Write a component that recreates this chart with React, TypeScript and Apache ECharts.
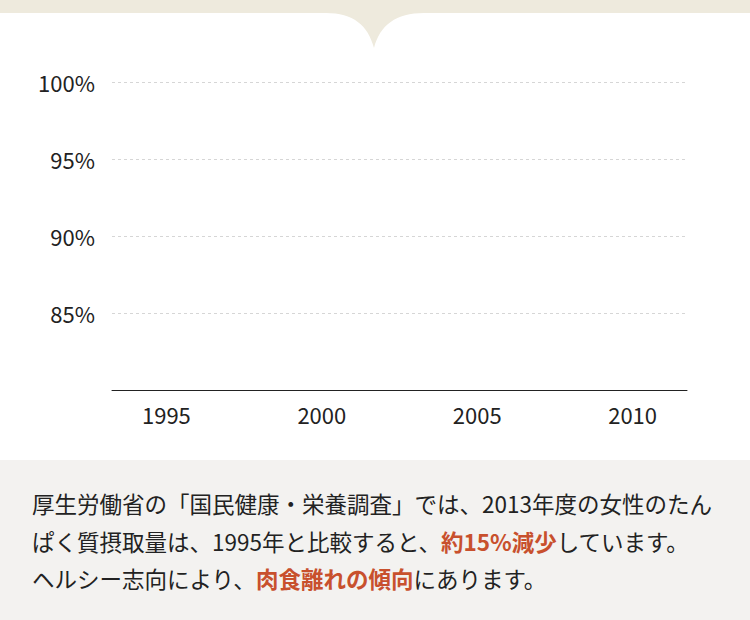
import React, { useEffect, useRef } from "react";
import * as echarts from "echarts";

const yearTicks = [1995, 2000, 2005, 2010];
const yTicks = [80, 85, 90, 95, 100];
const proteinSeries: [number, number][] = [];

const line1 = "厚生労働省の「国民健康・栄養調査」では、2013年度の女性のたん";
const line2a = "ぱく質摂取量は、1995年と比較すると、";
const line2b = "約15%減少";
const line2c = "しています。";
const line3a = "ヘルシー志向により、";
const line3b = "肉食離れの傾向";
const line3c = "にあります。";

const bandPath =
  "M0 0 H750 V13 H326 C353 13 368 25 374 48 C380 25 396 13 424 13 H0 Z";
echarts.graphic.registerShape("notchBand", echarts.graphic.extendPath(bandPath, {}));

const FONT = "'Noto Sans CJK JP', 'Noto Sans', sans-serif";

export default function App() {
  const ref = useRef<HTMLDivElement>(null);
  useEffect(() => {
    document.body.style.margin = "0";
    const chart = echarts.init(ref.current!, undefined, { renderer: "svg" });
    const rich = {
      n: { fontSize: 22.5, fill: "#222", fontFamily: FONT, fontWeight: 400 },
      r: { fontSize: 22.5, fill: "#c8502d", fontFamily: FONT, fontWeight: 700 },
    };
    chart.setOption({
      animation: false,
      backgroundColor: "#ffffff",
      grid: { left: 112, right: 63, top: 82, bottom: 230 },
      xAxis: {
        type: "value",
        min: 1993.25,
        max: 2011.75,
        axisLine: { show: true, lineStyle: { color: "#222", width: 1 } },
        axisTick: { show: false },
        splitLine: { show: false },
        axisLabel: {
          customValues: yearTicks,
          margin: 13,
          fontSize: 22,
          color: "#222",
          fontFamily: FONT,
          formatter: (v: number) => String(v),
        },
      },
      yAxis: {
        type: "value",
        min: yTicks[0],
        max: yTicks[yTicks.length - 1],
        interval: 5,
        axisLine: { show: false },
        axisTick: { show: false },
        splitLine: { show: true, lineStyle: { color: "#d6d6d6", type: [3, 3], width: 1 } },
        axisLabel: {
          margin: 17,
          fontSize: 22,
          color: "#222",
          fontFamily: FONT,
          formatter: (v: number) => (v === yTicks[0] ? "" : v + "%"),
        },
      },
      series: [
        {
          type: "line",
          data: proteinSeries,
          symbol: "none",
          lineStyle: { color: "#c8502d", width: 2 },
        },
      ],
      graphic: [
        {
          type: "notchBand",
          x: 0,
          y: 0,
          silent: true,
          style: { fill: "#eeeadd" },
        },
        {
          type: "rect",
          silent: true,
          shape: { x: 0, y: 460, width: 750, height: 160 },
          style: { fill: "#f3f2f0" },
        },
        {
          type: "text",
          x: 32,
          y: 503,
          silent: true,
          style: {
            text: `{n|${line1}}`,
            rich,
            verticalAlign: "middle",
          },
        },
        {
          type: "text",
          x: 32,
          y: 541,
          silent: true,
          style: {
            text: `{n|${line2a}}{r|${line2b}}{n|${line2c}}`,
            rich,
            verticalAlign: "middle",
          },
        },
        {
          type: "text",
          x: 32,
          y: 578,
          silent: true,
          style: {
            text: `{n|${line3a}}{r|${line3b}}{n|${line3c}}`,
            rich,
            verticalAlign: "middle",
          },
        },
      ],
    });
    return () => chart.dispose();
  }, []);
  return <div ref={ref} style={{ width: 750, height: 620 }} />;
}
